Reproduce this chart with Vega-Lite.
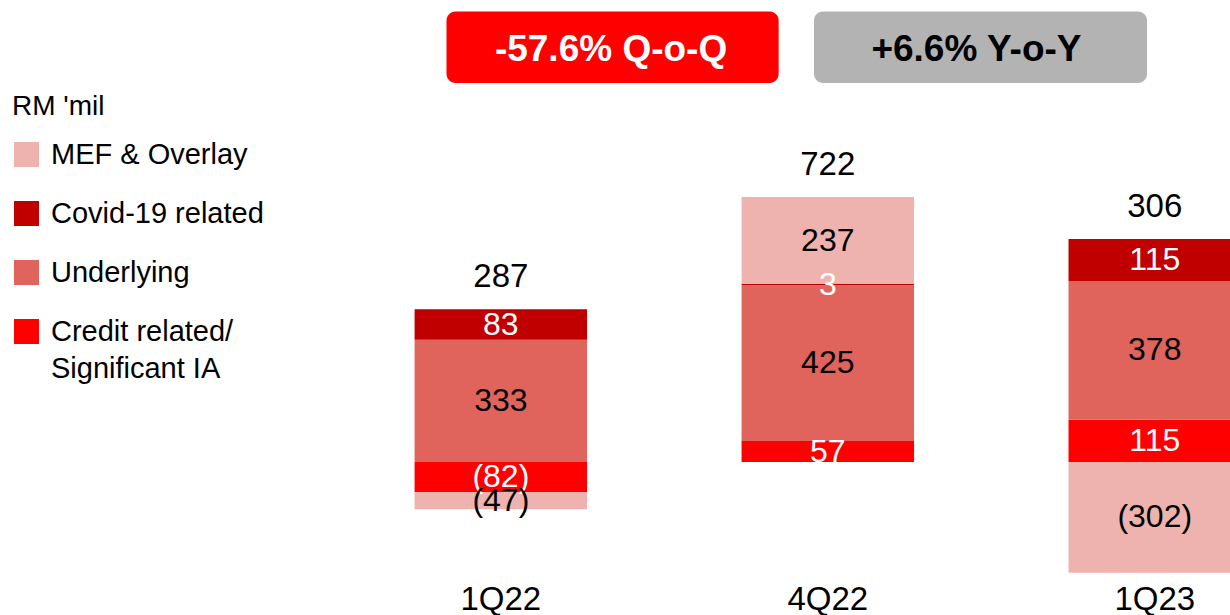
{
  "$schema": "https://vega.github.io/schema/vega-lite/v6.json",
  "width": 1230,
  "height": 580,
  "autosize": {"type": "none"},
  "padding": {"left": 0, "top": 0, "right": 0, "bottom": 35},
  "background": "white",
  "config": {
    "view": {"stroke": null},
    "font": "Liberation Sans",
    "axisX": {"domain": false, "ticks": false, "grid": false, "labelFontSize": 33, "labelColor": "black", "labelPadding": 3, "labelAngle": 0, "labelFont": "Liberation Sans"},
    "style": {"guide-label": {"lineHeight": 37}}
  },
  "datasets": {
    "segments": [
      {"quarter": "1Q22", "component": "Credit related/ Significant IA", "value": -82, "ord": 1},
      {"quarter": "1Q22", "component": "Underlying", "value": 333, "ord": 2},
      {"quarter": "1Q22", "component": "Covid-19 related", "value": 83, "ord": 3},
      {"quarter": "1Q22", "component": "MEF & Overlay", "value": -47, "ord": 4},
      {"quarter": "4Q22", "component": "Credit related/ Significant IA", "value": 57, "ord": 1},
      {"quarter": "4Q22", "component": "Underlying", "value": 425, "ord": 2},
      {"quarter": "4Q22", "component": "Covid-19 related", "value": 3, "ord": 3},
      {"quarter": "4Q22", "component": "MEF & Overlay", "value": 237, "ord": 4},
      {"quarter": "1Q23", "component": "Credit related/ Significant IA", "value": 115, "ord": 1},
      {"quarter": "1Q23", "component": "Underlying", "value": 378, "ord": 2},
      {"quarter": "1Q23", "component": "Covid-19 related", "value": 115, "ord": 3},
      {"quarter": "1Q23", "component": "MEF & Overlay", "value": -302, "ord": 4}
    ],
    "boxes": [
      {"label": "-57.6% Q-o-Q", "from": "1Q22", "to": "4Q22", "kind": "QoQ"},
      {"label": "+6.6% Y-o-Y", "from": "4Q22", "to": "1Q23", "kind": "YoY"}
    ]
  },
  "layer": [
    {
      "data": {"name": "segments"},
      "mark": {"type": "bar"},
      "encoding": {
        "x": {
          "field": "quarter", "type": "nominal", "title": null,
          "scale": {"domain": ["1Q22", "4Q22", "1Q23"], "range": [0, 1241], "paddingInner": 0.4725, "paddingOuter": 0.634, "align": 1}
        },
        "y": {
          "field": "value", "type": "quantitative", "stack": "zero", "axis": null,
          "scale": {"domain": [-321.5, 1259], "nice": false, "zero": false}
        },
        "color": {
          "field": "component", "type": "nominal",
          "scale": {
            "domain": ["MEF & Overlay", "Covid-19 related", "Underlying", "Credit related/ Significant IA"],
            "range": ["#EEB3AE", "#C00000", "#E0645C", "#FF0000"]
          },
          "legend": {
            "title": "RM 'mil",
            "orient": "none",
            "legendX": 12,
            "legendY": 93,
            "symbolType": "square",
            "symbolSize": 625,
            "symbolStrokeWidth": 0,
            "symbolOpacity": 1,
            "labelFontSize": 29,
            "labelFont": "Liberation Sans",
            "labelColor": "black",
            "labelLimit": 400,
            "labelOffset": 10,
            "titleFontSize": 28,
            "titleFont": "Liberation Sans",
            "titleFontWeight": "normal",
            "titleColor": "black",
            "titlePadding": 19,
            "rowPadding": 29,
            "labelExpr": "datum.label == 'Credit related/ Significant IA' ? ['Credit related/', 'Significant IA'] : datum.label"
          }
        },
        "order": {"field": "ord", "type": "quantitative"}
      }
    },
    {
      "data": {"name": "segments"},
      "mark": {"type": "text", "fontSize": 32, "baseline": "middle"},
      "encoding": {
        "x": {"field": "quarter", "type": "nominal", "title": null},
        "y": {"field": "value", "type": "quantitative", "stack": "zero", "bandPosition": 0.5, "axis": null},
        "detail": {"field": "component"},
        "order": {"field": "ord", "type": "quantitative"},
        "text": {"field": "value", "type": "quantitative", "format": "(.0f"},
        "color": {
          "condition": {"test": "datum.component == 'Covid-19 related' || datum.component == 'Credit related/ Significant IA'", "value": "white"},
          "value": "black"
        }
      }
    },
    {
      "data": {"name": "segments"},
      "transform": [
        {"joinaggregate": [{"op": "sum", "field": "value", "as": "total"}], "groupby": ["quarter"]},
        {"filter": "datum.value > 0"},
        {"aggregate": [{"op": "sum", "field": "value", "as": "top"}, {"op": "max", "field": "total", "as": "total"}], "groupby": ["quarter"]}
      ],
      "mark": {"type": "text", "fontSize": 33, "baseline": "alphabetic", "dy": -22, "color": "black"},
      "encoding": {
        "x": {"field": "quarter", "type": "nominal", "title": null},
        "y": {"field": "top", "type": "quantitative", "axis": null},
        "text": {"field": "total", "type": "quantitative"}
      }
    },
    {
      "data": {"name": "boxes"},
      "transform": [{"filter": "datum.kind == 'QoQ'"}],
      "mark": {"type": "rect", "cornerRadius": 9, "color": "#FF0000"},
      "encoding": {
        "x": {"field": "from", "type": "nominal", "bandPosition": 0.185, "title": null},
        "x2": {"field": "to", "bandPosition": 0.215},
        "y": {"datum": 1032.7, "axis": null},
        "y2": {"datum": 1227.5}
      }
    },
    {
      "data": {"name": "boxes"},
      "transform": [{"filter": "datum.kind == 'YoY'"}],
      "mark": {"type": "rect", "cornerRadius": 9, "color": "#B3B3B3"},
      "encoding": {
        "x": {"field": "from", "type": "nominal", "bandPosition": 0.42, "title": null},
        "x2": {"field": "to", "bandPosition": 0.455},
        "y": {"datum": 1032.7, "axis": null},
        "y2": {"datum": 1227.5}
      }
    },
    {
      "data": {"name": "boxes"},
      "transform": [{"filter": "datum.kind == 'QoQ'"}],
      "mark": {"type": "text", "fontSize": 37, "fontWeight": "bold", "color": "white", "baseline": "middle"},
      "encoding": {
        "x": {"field": "from", "type": "nominal", "bandPosition": 1.139, "title": null},
        "y": {"datum": 1124, "axis": null},
        "text": {"field": "label"}
      }
    },
    {
      "data": {"name": "boxes"},
      "transform": [{"filter": "datum.kind == 'YoY'"}],
      "mark": {"type": "text", "fontSize": 37, "fontWeight": "bold", "color": "black", "baseline": "middle"},
      "encoding": {
        "x": {"field": "from", "type": "nominal", "bandPosition": 1.362, "title": null},
        "y": {"datum": 1124, "axis": null},
        "text": {"field": "label"}
      }
    }
  ]
}
